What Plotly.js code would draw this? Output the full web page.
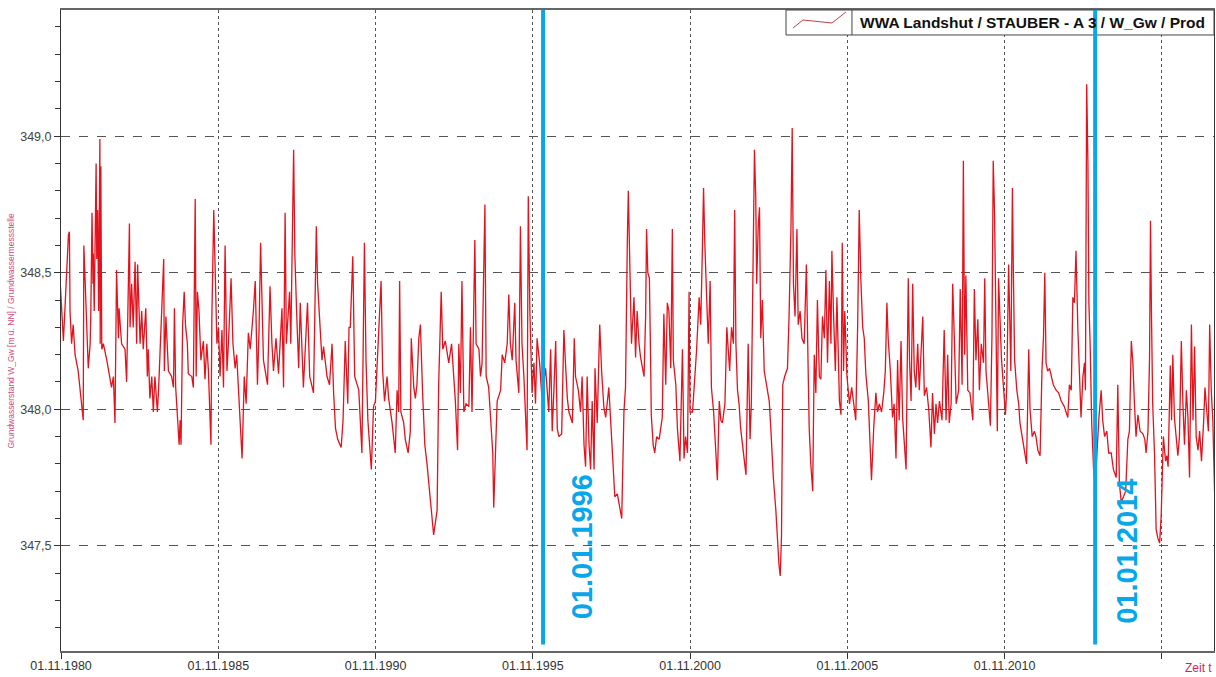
<!DOCTYPE html>
<html><head><meta charset="utf-8">
<script src="https://cdn.plot.ly/plotly-3.0.1.min.js"></script>
<style>html,body{margin:0;padding:0;background:#fff}#chart{width:1216px;height:677px}</style>
</head><body><div id="chart"></div>
<script>
// Groundwater level readings (decimal year, m)
const years1980s = [1980.80,1980.91,1981.07,1981.10,1981.12,1981.17,1981.22,1981.28,1981.38,1981.46,1981.54,1981.56,1981.63,1981.67,1981.70,1981.76,1981.78,1981.82,1981.85,1981.86,1981.89,1981.95,1981.97,1982.00,1982.03,1982.07,1982.08,1982.10,1982.13,1982.18,1982.29,1982.37,1982.44,1982.50,1982.55,1982.60,1982.66,1982.68,1982.76,1982.87,1982.92,1983.01,1983.03,1983.08,1983.13,1983.19,1983.24,1983.27,1983.35,1983.40,1983.45,1983.53,1983.58,1983.61,1983.66,1983.72,1983.77,1983.82,1983.90,1983.94,1983.98,1984.04,1984.10,1984.12,1984.17,1984.25,1984.35,1984.41,1984.44,1984.48,1984.51,1984.59,1984.62,1984.65,1984.70,1984.75,1984.79,1984.85,1984.88,1984.99,1985.04,1985.10,1985.13,1985.17,1985.22,1985.28,1985.36,1985.41,1985.47,1985.52,1985.60,1985.63,1985.69,1985.74,1985.79,1985.84,1985.89,1985.95,1986.00,1986.05,1986.11,1986.16,1986.24,1986.30,1986.37,1986.42,1986.51,1986.59,1986.66,1986.72,1986.79,1986.85,1986.95,1987.01,1987.08,1987.13,1987.18,1987.22,1987.27,1987.40,1987.48,1987.54,1987.59,1987.67,1987.75,1987.86,1987.91,1987.96,1988.00,1988.10,1988.14,1988.23,1988.27,1988.33,1988.39,1988.44,1988.49,1988.54,1988.67,1988.74,1988.86,1988.95,1988.99,1989.05,1989.13,1989.18,1989.29,1989.37,1989.45,1989.50,1989.56,1989.63,1989.74,1989.80,1989.87,1989.95,1989.99];
const levels1980s = [348.48,348.25,348.64,348.65,348.36,348.24,348.31,348.20,348.14,348.06,347.96,348.60,348.36,348.20,348.15,348.24,348.34,348.72,348.46,348.57,348.36,348.90,348.55,348.73,348.36,348.99,348.24,348.89,348.22,348.24,348.18,348.12,348.08,348.12,347.95,348.51,348.26,348.37,348.24,348.22,348.10,348.68,348.30,348.46,348.30,348.54,348.24,348.53,348.24,348.36,348.22,348.37,348.12,348.22,348.04,348.12,347.99,348.12,347.99,348.08,348.19,348.36,348.55,348.14,348.34,348.14,348.12,348.08,348.37,348.08,348.02,347.87,347.96,347.87,348.31,348.43,348.31,348.24,348.13,348.12,348.08,348.77,348.12,348.43,348.36,348.18,348.25,348.11,348.24,348.14,347.87,348.34,348.73,348.51,348.24,348.30,348.12,348.29,348.08,348.60,348.14,348.25,348.48,348.24,348.15,348.20,347.99,347.82,348.12,348.02,348.28,348.22,348.36,348.47,348.09,348.29,348.61,348.36,348.18,348.09,348.45,348.24,348.14,348.26,348.13,348.37,348.08,348.72,348.24,348.43,348.24,348.95,348.56,348.34,348.15,348.39,348.20,348.08,348.39,348.12,348.06,348.67,348.46,348.34,348.18,348.23,348.12,348.09,348.24,348.06,347.93,347.89,347.86,347.96,348.25,348.02,348.30];

const years1990s = [1990.03,1990.11,1990.17,1990.30,1990.40,1990.48,1990.53,1990.59,1990.70,1990.77,1990.83,1990.91,1990.93,1991.01,1991.06,1991.12,1991.20,1991.25,1991.36,1991.46,1991.52,1991.57,1991.60,1991.64,1991.73,1991.78,1991.87,1991.94,1991.97,1992.05,1992.10,1992.15,1992.21,1992.26,1992.33,1992.40,1992.47,1992.55,1992.61,1992.68,1992.79,1992.84,1992.92,1992.97,1993.05,1993.16,1993.25,1993.32,1993.37,1993.44,1993.48,1993.53,1993.58,1993.64,1993.71,1993.80,1993.85,1993.90,1993.99,1994.03,1994.12,1994.17,1994.22,1994.31,1994.35,1994.43,1994.52,1994.56,1994.59,1994.65,1994.70,1994.81,1994.86,1994.94,1995.02,1995.07,1995.12,1995.18,1995.26,1995.30,1995.39,1995.44,1995.49,1995.55,1995.60,1995.65,1995.69,1995.74,1995.81,1995.87,1995.92,1995.97,1996.05,1996.12,1996.24,1996.29,1996.34,1996.40,1996.45,1996.50,1996.56,1996.61,1996.66,1996.75,1996.82,1996.87,1996.93,1996.98,1997.09,1997.15,1997.19,1997.28,1997.35,1997.40,1997.46,1997.51,1997.56,1997.62,1997.67,1997.72,1997.78,1997.81,1997.88,1997.96,1998.02,1998.09,1998.15,1998.25,1998.31,1998.36,1998.44,1998.52,1998.59,1998.66,1998.73,1998.78,1998.84,1998.87,1998.91,1998.97];
const levels1990s = [348.30,348.56,348.12,348.07,347.84,348.61,348.18,347.96,347.78,348.01,348.03,348.25,348.24,348.47,348.14,348.03,348.12,348.04,347.95,347.84,348.07,347.99,348.47,347.99,347.95,347.89,347.84,347.92,348.26,348.08,348.04,348.09,348.26,348.31,348.06,347.87,347.80,347.69,347.63,347.54,347.63,348.09,348.43,348.22,348.25,348.17,348.24,348.12,348.03,347.85,348.24,348.06,348.47,347.99,348.02,348.01,348.30,347.99,348.62,348.24,348.22,348.12,348.17,348.75,348.12,348.08,347.91,347.84,347.64,347.87,348.03,348.07,348.20,348.17,348.24,348.42,348.24,348.18,348.39,348.18,348.06,348.67,348.24,348.12,347.99,347.85,348.78,348.36,348.06,348.17,348.02,348.26,348.17,348.05,348.15,348.06,347.99,348.22,347.92,348.06,348.25,347.93,347.90,347.91,348.29,348.17,348.04,347.99,347.95,348.26,348.12,348.07,347.99,348.12,347.87,347.79,348.12,347.87,347.78,348.03,347.78,348.15,347.95,348.31,348.14,348.01,347.97,348.08,347.96,347.87,347.68,347.69,347.65,347.60,347.99,348.08,348.63,348.80,348.57,348.24];

const years2000s = [1999.05,1999.10,1999.15,1999.21,1999.26,1999.37,1999.42,1999.45,1999.49,1999.54,1999.58,1999.60,1999.66,1999.71,1999.77,1999.85,1999.90,1999.95,2000.00,2000.06,2000.11,2000.16,2000.22,2000.27,2000.30,2000.38,2000.43,2000.51,2000.59,2000.64,2000.69,2000.75,2000.80,2000.83,2000.91,2000.96,2001.04,2001.12,2001.17,2001.22,2001.26,2001.30,2001.36,2001.41,2001.47,2001.51,2001.58,2001.65,2001.70,2001.76,2001.81,2001.86,2001.94,2002.00,2002.04,2002.09,2002.15,2002.21,2002.25,2002.29,2002.34,2002.39,2002.44,2002.55,2002.61,2002.68,2002.74,2002.78,2002.83,2002.88,2002.92,2002.95,2003.00,2003.04,2003.08,2003.13,2003.19,2003.27,2003.35,2003.40,2003.48,2003.56,2003.61,2003.66,2003.70,2003.74,2003.78,2003.84,2003.93,2003.98,2004.04,2004.08,2004.12,2004.17,2004.23,2004.27,2004.33,2004.39,2004.46,2004.53,2004.59,2004.62,2004.67,2004.73,2004.78,2004.83,2004.88,2004.94,2004.99,2005.04,2005.10,2005.15,2005.20,2005.26,2005.31,2005.34,2005.39,2005.45,2005.50,2005.54,2005.58,2005.63,2005.67,2005.71,2005.75,2005.82,2005.86,2005.90,2005.97,2006.03,2006.10,2006.16,2006.21,2006.26,2006.32,2006.37,2006.42,2006.50,2006.56,2006.60,2006.67,2006.74,2006.79,2006.85,2006.92,2006.99,2007.04,2007.09,2007.13,2007.20,2007.27,2007.32,2007.38,2007.43,2007.48,2007.54,2007.59,2007.64,2007.70,2007.73,2007.77,2007.81,2007.86,2007.91,2007.96];
const levels2000s = [348.41,348.19,348.36,348.24,348.19,348.12,348.34,348.66,348.50,348.48,348.17,347.98,347.87,347.84,347.90,347.89,347.93,347.97,348.35,348.09,348.39,348.36,348.15,348.66,348.18,348.09,347.93,347.81,348.22,347.82,347.90,347.84,348.43,347.99,347.99,348.08,348.22,348.41,348.31,348.57,348.81,348.61,348.36,348.24,348.47,348.08,347.99,347.81,347.74,348.03,347.96,347.95,348.02,348.30,348.22,348.14,348.30,348.24,348.73,348.24,348.07,348.02,347.93,347.82,347.76,348.24,347.89,348.02,348.56,348.95,348.78,348.46,348.67,348.74,348.26,348.40,348.14,348.09,348.03,347.93,347.75,347.63,347.51,347.43,347.39,347.54,348.09,348.12,348.15,348.34,348.66,349.03,348.46,348.34,348.66,348.31,348.36,348.26,348.24,348.53,348.12,347.93,347.80,347.70,348.20,348.06,348.40,348.12,348.11,348.34,348.26,348.51,348.17,348.47,348.24,348.58,348.36,348.14,348.41,348.24,348.03,347.98,348.61,348.14,348.36,348.12,348.08,348.02,348.08,348.02,347.96,348.31,348.73,348.48,348.30,348.26,348.13,348.03,347.87,347.74,347.93,348.06,347.99,348.02,347.99,348.06,348.14,348.39,348.26,348.14,347.97,348.02,347.82,348.18,347.96,348.25,347.97,347.87,347.78,348.09,348.48,348.18,348.03,348.46,348.14];

const years2010s = [2008.01,2008.07,2008.12,2008.17,2008.23,2008.28,2008.35,2008.42,2008.49,2008.54,2008.60,2008.65,2008.70,2008.76,2008.84,2008.91,2008.97,2009.02,2009.07,2009.13,2009.18,2009.23,2009.29,2009.37,2009.42,2009.48,2009.52,2009.56,2009.60,2009.66,2009.73,2009.82,2009.87,2009.92,2009.98,2010.03,2010.09,2010.16,2010.20,2010.24,2010.33,2010.38,2010.43,2010.47,2010.51,2010.56,2010.60,2010.64,2010.69,2010.73,2010.79,2010.86,2010.90,2010.96,2011.03,2011.08,2011.11,2011.15,2011.22,2011.28,2011.32,2011.39,2011.46,2011.53,2011.60,2011.64,2011.71,2011.78,2011.83,2011.89,2011.96,2012.02,2012.07,2012.11,2012.15,2012.20,2012.26,2012.31,2012.38,2012.47,2012.55,2012.63,2012.73,2012.84,2012.89,2012.95,2013.00,2013.05,2013.10,2013.16,2013.21,2013.26,2013.32,2013.37,2013.40,2013.44,2013.48,2013.51,2013.55,2013.60,2013.66,2013.71,2013.83,2013.90,2013.95,2014.01,2014.08,2014.14,2014.22,2014.29,2014.38,2014.43,2014.48,2014.54,2014.61,2014.68,2014.75,2014.80,2014.86,2014.91,2014.96,2015.01,2015.07,2015.14,2015.23,2015.29,2015.33,2015.39,2015.44,2015.47,2015.50,2015.54,2015.60,2015.65,2015.70,2015.76,2015.81,2015.84,2015.88,2015.95,2015.99,2016.03,2016.10,2016.14,2016.18,2016.23,2016.29,2016.34,2016.39,2016.45,2016.50,2016.55,2016.61,2016.66,2016.71,2016.77,2016.82,2016.87,2016.92,2016.98,2017.03,2017.09,2017.16,2017.20,2017.24,2017.31,2017.35,2017.40,2017.45,2017.51,2017.56];
const levels2010s = [348.08,348.24,348.07,348.19,348.34,348.05,348.08,348.00,347.86,348.06,347.91,348.02,347.95,348.03,347.96,348.29,347.96,348.20,347.95,348.02,348.46,348.27,348.02,348.07,348.44,348.09,348.91,348.20,348.49,348.07,348.06,347.96,348.44,348.18,348.33,348.07,348.24,348.17,348.48,348.14,348.02,347.94,348.27,348.91,348.73,348.18,347.92,348.48,348.31,348.19,348.09,347.98,348.08,348.53,348.14,348.81,348.51,348.18,348.07,348.02,347.95,347.90,347.86,347.80,348.22,348.00,347.90,347.92,347.90,347.85,347.83,348.14,348.27,348.50,348.17,348.14,348.15,348.12,348.09,348.07,348.06,348.03,348.01,347.97,348.09,348.07,348.41,348.39,348.58,348.29,348.14,347.97,348.12,348.17,348.07,349.19,348.90,348.39,348.24,347.95,347.78,347.72,347.97,348.07,347.96,347.90,347.92,347.84,347.84,347.78,347.75,348.09,347.73,347.66,347.68,347.70,347.89,347.92,348.25,348.17,348.02,347.90,347.98,347.92,347.91,347.89,347.84,347.92,348.19,348.69,348.36,348.02,347.83,347.56,347.53,347.51,347.61,347.72,347.90,347.81,347.83,347.79,348.16,347.96,348.20,347.97,347.90,347.83,347.90,348.25,348.02,347.87,348.07,347.97,347.75,348.31,347.96,348.23,347.90,347.85,347.92,347.81,347.96,348.08,348.02,347.92,348.31,348.07,347.96,347.68,347.66];

const tickDates = ['1980-11-01','1985-11-01','1990-11-01','1995-11-01','2000-11-01','2005-11-01','2010-11-01','2015-11-01'];
const tickLabels = ['01.11.1980','01.11.1985','01.11.1990','01.11.1995','01.11.2000','01.11.2005','01.11.2010',''];
const markerYears = [1996.16, 2013.71];
const markerLabels = ['01.01.1996','01.01.2014'];
const seriesName = 'WWA Landshut / STAUBER - A 3 / W_Gw / Prod';
const yTitle = 'Grundwasserstand W_Gw [m ü. NN] / Grundwassermessstelle';
const xTitle = 'Zeit t';

function yearToDate(y){
  const yr = Math.floor(y);
  const s = Date.UTC(yr,0,1), e = Date.UTC(yr+1,0,1);
  return new Date(s + (y-yr)*(e-s)).toISOString().replace('T',' ').slice(0,19);
}

const allYears = years1980s.concat(years1990s, years2000s, years2010s);
const allLevels = levels1980s.concat(levels1990s, levels2000s, levels2010s);

const trace = {
  x: allYears.map(yearToDate), y: allLevels,
  type:'scatter', mode:'lines', name: seriesName,
  line:{color:'#e3121c', width:1.3}, hoverinfo:'x+y'
};

const FONT = 'Liberation Sans, Arial, Helvetica, sans-serif';
const BLUE = '#0aa6ea';

const shapes = [];
const annotations = [];
markerYears.forEach((yv,i)=>{
  const d = yearToDate(yv);
  shapes.push({type:'line', xref:'x', yref:'paper', x0:d, x1:d, y0:0.01, y1:1.0,
    line:{color:BLUE, width:4}, layer:'above'});
  annotations.push({xref:'x', yref:'paper', x:d, y:[0.162,0.155][i], xshift:[39,31][i],
    text:'<b>'+markerLabels[i]+'</b>', textangle:-90, showarrow:false,
    font:{family:FONT, size:29, color:BLUE}, xanchor:'center', yanchor:'middle'});
});

// legend box (drawn)
shapes.unshift(
  {type:'rect', xref:'paper', yref:'paper', x0:0.6288, x1:1.0, y0:0.961, y1:1.0,
   fillcolor:'#ffffff', line:{color:'#444', width:1}, layer:'above'},
  {type:'line', xref:'paper', yref:'paper', x0:0.686, x1:0.686, y0:0.961, y1:1.0,
   line:{color:'#444', width:1}, layer:'above'},
  {type:'path', xref:'paper', yref:'paper', path:'M0.6349,0.9719 L0.6435,0.9844 L0.6687,0.9797 L0.6808,0.9969',
   line:{color:'#c0404c', width:1}, layer:'above'}
);
annotations.push(
  {xref:'paper', yref:'paper', x:0.6912, y:0.9805, xanchor:'left', yanchor:'middle',
   text:'<b>'+seriesName+'</b>', showarrow:false, font:{family:FONT, size:15.5, color:'#111'}},
  {xref:'paper', yref:'paper', x:0, xshift:-51, y:0.5, xanchor:'center', yanchor:'middle',
   text:yTitle, textangle:-90, showarrow:false, font:{family:FONT, size:8.5, color:'#d24a7c'}},
  {xref:'paper', yref:'paper', x:1, y:-0.0265, xanchor:'right', yanchor:'middle',
   text:xTitle, showarrow:false, font:{family:FONT, size:12, color:'#c8285a'}}
);

const layout = {
  width:1216, height:677,
  margin:{l:61, r:2, t:10, b:26},
  paper_bgcolor:'#ffffff', plot_bgcolor:'#ffffff',
  separators:', ',
  font:{family:FONT, size:12.5, color:'#333'},
  showlegend:false,
  xaxis:{type:'date', range:['1980-11-01','2017-06-28'],
    tickmode:'array', tickvals:tickDates, ticktext:tickLabels,
    ticks:'outside', ticklen:6, tickcolor:'#333', tickwidth:1, ticklabelstandoff:-4,
    showline:true, linecolor:'#666', linewidth:2, mirror:true,
    showgrid:true, gridcolor:'#555', griddash:'dot', gridwidth:1,
    zeroline:false, tickfont:{family:FONT, size:12.5, color:'#333'}},
  yaxis:{range:[347.115, 349.462], tick0:347.5, dtick:0.5, tickformat:'.1f',
    ticks:'outside', ticklen:6, tickcolor:'#333',
    showline:true, linecolor:'#333', linewidth:1, mirror:true,
    showgrid:true, gridcolor:'#555', griddash:'dash', gridwidth:1,
    minor:{dtick:0.1, tick0:347.5, ticks:'outside', ticklen:5, tickcolor:'#333', showgrid:false},
    zeroline:false, tickfont:{family:FONT, size:12.5, color:'#444'}},
  shapes: shapes, annotations: annotations
};

Plotly.newPlot('chart', [trace], layout, {displayModeBar:false, staticPlot:true});
</script>
</body></html>
